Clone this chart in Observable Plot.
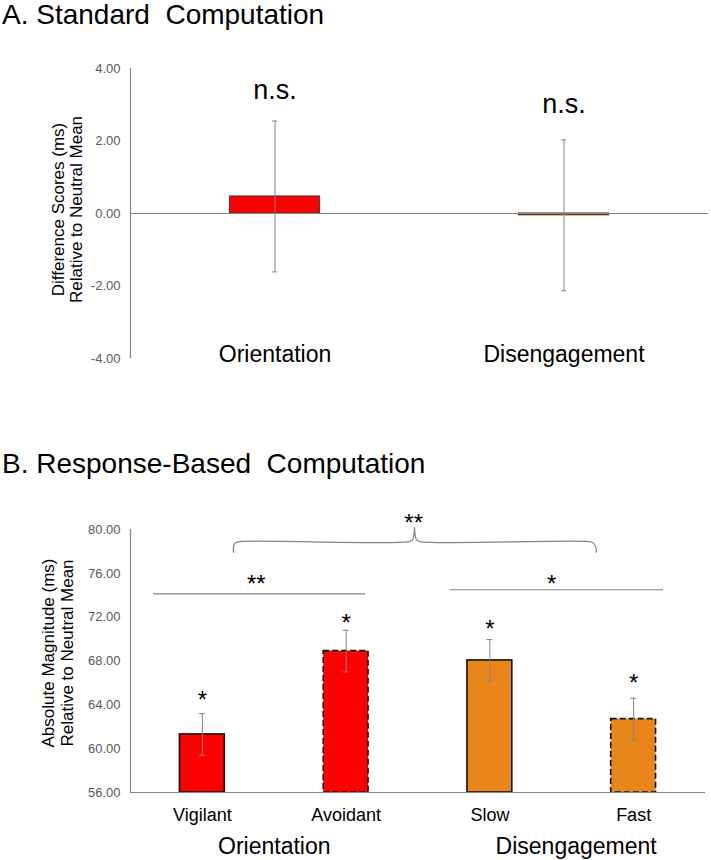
<!DOCTYPE html>
<html>
<head>
<meta charset="utf-8">
<script src="https://cdn.jsdelivr.net/npm/d3@7"></script>
<script src="https://cdn.jsdelivr.net/npm/@observablehq/plot@0.6"></script>
<style>
  body { margin: 0; background: #fff; font-family: "Liberation Sans", Arial, sans-serif; }
  #wrap { position: relative; width: 711px; height: 860px; overflow: hidden; }
  .title { position: absolute; left: 2px; font-size: 28px; line-height: 30px; color: #000; white-space: pre; }
  .panel { position: absolute; left: 0; }
</style>
</head>
<body>
<div id="wrap">
  <div class="panel" id="pa" style="top:0px"></div>
  <div class="panel" id="pb" style="top:480px"></div>
  <div class="title" style="top:0px">A. Standard  Computation</div>
  <div class="title" style="top:449px">B. Response-Based  Computation</div>
</div>
<script>
// ---------- Panel A data ----------
const aCategories = ["Orientation", "Disengagement"];
const aMeans = [0.47, -0.05];
const aErrors = [2.08, 2.08];
const aFills = ["#ff0000", "#9a4c12"];
const aStrokes = ["#3a3a3a", "#4a2608"];
const aSigLabels = ["n.s.", "n.s."];
const aSigY = [3.29, 2.9];
const aYTicks = [-4, -2, 0, 2, 4];

// ---------- Panel B data ----------
const bCategories = ["Vigilant", "Avoidant", "Slow", "Fast"];
const bMeans = [61.3, 68.9, 68.05, 62.7];
const bErrors = [1.9, 1.9, 1.9, 1.9];
const bFills = ["#ff0000", "#ff0000", "#e8861a", "#e8861a"];
const bDashed = [false, true, false, true];
const bStarY = [65.0, 71.95, 71.4, 66.5];
const bYTicks = [56, 60, 64, 68, 72, 76, 80];
const bGroups = ["Orientation", "Disengagement"];
const bGroupX = [0.5, 2.6];
// significance lines: [x1, x2, y]
const bSigLineX1 = [-0.34, 1.726];
const bSigLineX2 = [1.135, 3.208];
const bSigLineY = [74.13, 74.5];
const bSigLineText = ["**", "*"];
const bSigTextX = [0.375, 2.43];
const bSigTextY = [75.55, 75.55];
// curly brace outline points
const braceX = [0.217, 0.217, 0.232, 0.26, 1.44, 1.462, 1.472, 1.476, 1.48, 1.49, 1.512, 2.69, 2.718, 2.733, 2.74, 2.74];
const braceY = [77.92, 78.5, 78.8, 78.9, 78.9, 79.05, 79.5, 80.2, 79.5, 79.05, 78.9, 78.9, 78.8, 78.5, 78.2, 77.92];
const braceText = "**";
const braceTextY = 81.1;

const FONT = "Liberation Sans, Arial, sans-serif";
const GRAY = "#858585";

// ---------- Panel A ----------
const aData = aCategories.map((c, i) => ({i, c, m: aMeans[i], e: aErrors[i], fill: aFills[i], stroke: aStrokes[i], sig: aSigLabels[i], sy: aSigY[i]}));
const hwA = 0.156;
const plotA = Plot.plot({
  width: 711, height: 378,
  marginLeft: 130, marginRight: 3, marginTop: 68, marginBottom: 20,
  style: {fontFamily: FONT, background: "transparent", overflow: "visible"},
  x: {domain: [-0.5, 1.5]},
  y: {domain: [-4, 4]},
  marks: [
    Plot.ruleX([-0.5], {stroke: GRAY, strokeWidth: 1.2}),
    Plot.rectY(aData, {x1: d => d.i - hwA, x2: d => d.i + hwA, y1: 0, y2: "m", fill: "fill", stroke: "stroke", strokeWidth: 1}),
    Plot.ruleY([0], {stroke: GRAY, strokeWidth: 1.2}),
    Plot.ruleX(aData, {x: "i", y1: d => d.m - d.e, y2: d => d.m + d.e, stroke: GRAY, strokeWidth: 1}),
    Plot.ruleY(aData, {x1: "i", x2: "i", y: d => d.m + d.e, insetLeft: -2.5, insetRight: -2.5, stroke: GRAY, strokeWidth: 1}),
    Plot.ruleY(aData, {x1: "i", x2: "i", y: d => d.m - d.e, insetLeft: -2.5, insetRight: -2.5, stroke: GRAY, strokeWidth: 1}),
    Plot.text(aData, {x: "i", y: "sy", text: "sig", fontSize: 27, fill: "#000", lineAnchor: "middle", dy: -4}),
    Plot.axisY({ticks: aYTicks, tickFormat: d => d.toFixed(2), tickSize: 0, tickPadding: 10, fontSize: 13, color: "#595959", label: null}),
    Plot.axisX({ticks: [0, 1], tickFormat: d => aCategories[d], tickSize: 0, tickPadding: 0, dy: -13, fontSize: 23, color: "#000", label: null}),
    Plot.text(["Difference Scores (ms)"], {text: d => d, frameAnchor: "left", textAnchor: "middle", dx: -72, dy: -4, rotate: -90, fontSize: 17, fill: "#000"}),
    Plot.text(["Relative to Neutral Mean"], {text: d => d, frameAnchor: "left", textAnchor: "middle", dx: -54, dy: -4, rotate: -90, fontSize: 17, fill: "#000"})
  ]
});
document.getElementById("pa").appendChild(plotA);

// ---------- Panel B ----------
const bData = bCategories.map((c, i) => ({i, c, m: bMeans[i], e: bErrors[i], fill: bFills[i], dashed: bDashed[i], sy: bStarY[i]}));
const hwB = 0.156;
const sigLines = bSigLineX1.map((x1, k) => ({x1, x2: bSigLineX2[k], y: bSigLineY[k], t: bSigLineText[k], tx: bSigTextX[k], ty: bSigTextY[k]}));
const brace = braceX.map((x, k) => ({x, y: braceY[k]}));
const plotB = Plot.plot({
  width: 711, height: 380,
  marginLeft: 130, marginRight: 6, marginTop: 49, marginBottom: 68,
  style: {fontFamily: FONT, background: "transparent", overflow: "visible"},
  x: {domain: [-0.5, 3.5]},
  y: {domain: [56, 80]},
  marks: [
    Plot.ruleX([-0.5], {stroke: GRAY, strokeWidth: 1.2}),
    Plot.rectY(bData.filter(d => !d.dashed), {x1: d => d.i - hwB, x2: d => d.i + hwB, y1: 56, y2: "m", fill: "fill", stroke: "#111", strokeWidth: 1.6}),
    Plot.rectY(bData.filter(d => d.dashed), {x1: d => d.i - hwB, x2: d => d.i + hwB, y1: 56, y2: "m", fill: "fill", stroke: "#111", strokeWidth: 1.6, strokeDasharray: "6,3"}),
    Plot.ruleY([56], {stroke: GRAY, strokeWidth: 1.2}),
    Plot.ruleX(bData, {x: "i", y1: d => d.m - d.e, y2: d => d.m + d.e, stroke: GRAY, strokeWidth: 1}),
    Plot.ruleY(bData, {x1: "i", x2: "i", y: d => d.m + d.e, insetLeft: -3, insetRight: -3, stroke: GRAY, strokeWidth: 1}),
    Plot.ruleY(bData, {x1: "i", x2: "i", y: d => d.m - d.e, insetLeft: -3, insetRight: -3, stroke: GRAY, strokeWidth: 1}),
    Plot.text(bData, {x: "i", y: "sy", text: () => "*", fontSize: 24, fill: "#000", lineAnchor: "middle", dy: 6}),
    Plot.ruleY(sigLines, {x1: "x1", x2: "x2", y: "y", stroke: GRAY, strokeWidth: 1.2}),
    Plot.text(sigLines, {x: "tx", y: "ty", text: "t", fontSize: 24, fill: "#000", lineAnchor: "middle", dy: 6}),
    Plot.line(brace, {x: "x", y: "y", stroke: GRAY, strokeWidth: 1.2, curve: "catmull-rom"}),
    Plot.text([braceText], {x: 1.47, y: braceTextY, text: d => d, fontSize: 24, fill: "#000", lineAnchor: "middle", dy: 6}),
    Plot.axisY({ticks: bYTicks, tickFormat: d => d.toFixed(2), tickSize: 0, tickPadding: 10, fontSize: 13, color: "#595959", label: null}),
    Plot.axisX({ticks: [0, 1, 2, 3], tickFormat: d => bCategories[d], tickSize: 0, tickPadding: 16, fontSize: 18, color: "#000", label: null}),
    Plot.axisX({ticks: bGroupX, tickFormat: (d, k) => bGroups[k], tickSize: 0, tickPadding: 45, fontSize: 23, color: "#000", label: null}),
    Plot.text(["Absolute Magnitude (ms)"], {text: d => d, frameAnchor: "left", textAnchor: "middle", dx: -82, dy: -8, rotate: -90, fontSize: 17, fill: "#000"}),
    Plot.text(["Relative to Neutral Mean"], {text: d => d, frameAnchor: "left", textAnchor: "middle", dx: -63, dy: -8, rotate: -90, fontSize: 17, fill: "#000"})
  ]
});
document.getElementById("pb").appendChild(plotB);
</script>
</body>
</html>
